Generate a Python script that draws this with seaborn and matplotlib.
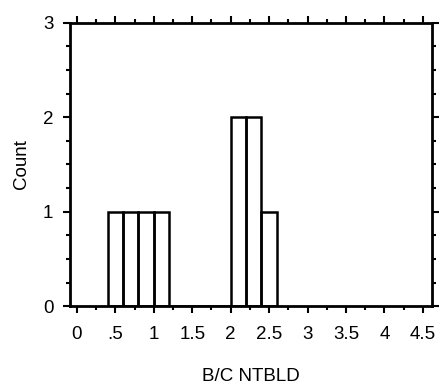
import numpy as np
import pandas as pd
import matplotlib
matplotlib.use("Agg")
import matplotlib.pyplot as plt
import seaborn as sns
from matplotlib.ticker import MultipleLocator

# observed B/C NTBLD values (one per count)
ntbld = [0.5, 0.7, 0.9, 1.1, 2.1, 2.1, 2.3, 2.3, 2.5]
bin_edges = [0.4, 0.6, 0.8, 1.0, 1.2, 1.4, 1.6, 1.8, 2.0, 2.2, 2.4, 2.6]
x_ticks = [0, 0.5, 1, 1.5, 2, 2.5, 3, 3.5, 4, 4.5]
x_labels = ["0", ".5", "1", "1.5", "2", "2.5", "3", "3.5", "4", "4.5"]

sns.set_style("ticks")
plt.rcParams['font.family'] = ['Liberation Sans', 'DejaVu Sans']
plt.rcParams['text.color'] = 'black'
plt.rcParams['axes.labelcolor'] = 'black'

fig = plt.figure(figsize=(4.4, 3.87), dpi=100)
ax = fig.add_axes([0.159, 0.209, 0.823, 0.732])

df = pd.DataFrame({"B/C NTBLD": ntbld})
sns.histplot(data=df, x="B/C NTBLD", bins=bin_edges, fill=False,
             element="bars", color="black", edgecolor="black",
             linewidth=1.8, ax=ax)

ax.set_xlim(-0.09, 4.62)
ax.set_ylim(0, 3)
ax.set_xticks(x_ticks)
ax.set_xticklabels(x_labels)
ax.set_yticks([0, 1, 2, 3])
ax.xaxis.set_minor_locator(MultipleLocator(0.25))
ax.yaxis.set_minor_locator(MultipleLocator(0.25))

for s in ax.spines.values():
    s.set_visible(True)
    s.set_linewidth(2)
    s.set_color("black")

ax.tick_params(which="both", direction="out", top=True, right=True,
               color="black", width=1.5)
ax.tick_params(which="major", length=5, labelsize=13.5, labelcolor="black")
ax.tick_params(axis="x", which="major", pad=9)
ax.tick_params(axis="y", which="major", pad=7)
ax.tick_params(which="minor", length=3)

ax.set_xlabel("B/C NTBLD", fontsize=13.5, labelpad=18)
ax.set_ylabel("Count", fontsize=13.5, labelpad=9)

fig.savefig("out.png", dpi=100)
